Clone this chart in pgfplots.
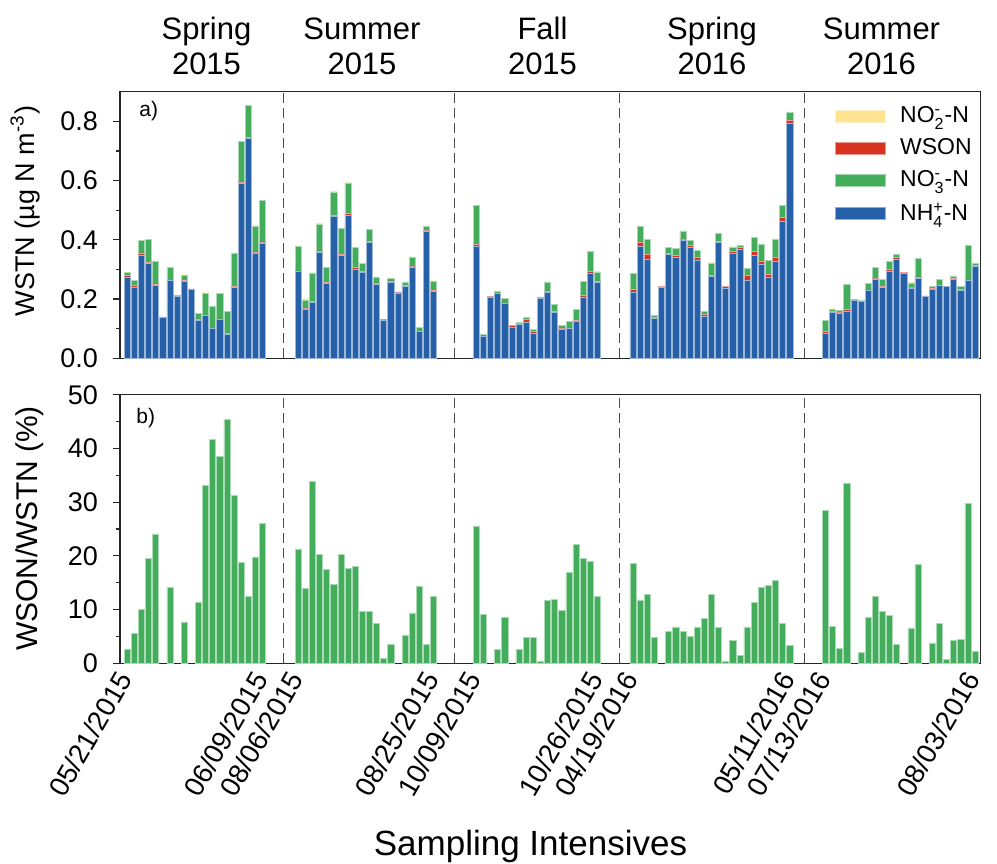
\documentclass[border=0pt]{standalone}
\usepackage{pgfplots}
\pgfplotsset{compat=1.18}
\usepackage{pgfplotstable}
\usepackage{amsmath}
\usepackage{fontspec}
\setmainfont{Liberation Sans}

\definecolor{cNH}{RGB}{37,96,168}
\definecolor{cNO3}{RGB}{67,173,92}
\definecolor{cWSON}{RGB}{216,50,33}
\definecolor{cNO2}{RGB}{254,228,145}

\pgfplotstableread{
x nh wson no3 no2
1 0.275 0.006 0.008 0
2 0.239 0.008 0.016 0.002
3 0.349 0.007 0.041 0.002
4 0.320 0.003 0.078 0
5 0.245 0.006 0.078 0
6 0.140 0 0 0
7 0.262 0.002 0.042 0
8 0.208 0.004 0 0
9 0.260 0.002 0.019 0.004
10 0.232 0.002 0 0
11 0.127 0.006 0.018 0
12 0.144 0.002 0.073 0.003
13 0.100 0.003 0.073 0
14 0.131 0.002 0.087 0
15 0.080 0.005 0.074 0
16 0.240 0.002 0.114 0
17 0.591 0.005 0.137 0
18 0.743 0.003 0.109 0
19 0.356 0.003 0.088 0
20 0.390 0.003 0.140 0
25 0.295 0 0.083 0.005
26 0.167 0.003 0.026 0.006
27 0.188 0.003 0.097 0
28 0.358 0.005 0.091 0.003
29 0.253 0.003 0.052 0
30 0.479 0.003 0.080 0.003
31 0.347 0.003 0.088 0
32 0.483 0.005 0.104 0.004
33 0.300 0.007 0.068 0
34 0.291 0.002 0.027 0
35 0.391 0.003 0.041 0
36 0.249 0.006 0.020 0
37 0.130 0.002 0 0
38 0.256 0.005 0.009 0
39 0.221 0.003 0 0
40 0.244 0.002 0.012 0
41 0.309 0.003 0.030 0
42 0.090 0.002 0.012 0
43 0.430 0.003 0.014 0
44 0.226 0.003 0.031 0.002
50 0.377 0.007 0.131 0.002
51 0.073 0.003 0.005 0
52 0.207 0.003 0 0
53 0.218 0.002 0.007 0
54 0.185 0.002 0.016 0
55 0.104 0.007 0 0.002
56 0.116 0.003 0.002 0
57 0.123 0.008 0.006 0
58 0.086 0.005 0.006 0
59 0.202 0.003 0.002 0
60 0.222 0.006 0.030 0
61 0.155 0.003 0.023 0
62 0.099 0.003 0.010 0
63 0.100 0.003 0.021 0
64 0.124 0.005 0.035 0
65 0.207 0.005 0.047 0.002
66 0.288 0.006 0.066 0.002
67 0.256 0.003 0.033 0.002
72 0.222 0.011 0.053 0
73 0.377 0.016 0.054 0
74 0.336 0.015 0.051 0
75 0.135 0.005 0.006 0
76 0.240 0.002 0 0
77 0.351 0.003 0.021 0
78 0.340 0.007 0.024 0
79 0.400 0.003 0.027 0
80 0.375 0.007 0.017 0
81 0.331 0.009 0.024 0
82 0.141 0.007 0.011 0
83 0.277 0.003 0.041 0.002
84 0.392 0.002 0.027 0
85 0.238 0.005 0 0
86 0.355 0.005 0.016 0
87 0.369 0.006 0.005 0.002
88 0.264 0.018 0.021 0.002
89 0.348 0.014 0.047 0
90 0.318 0.011 0.055 0
91 0.274 0.009 0.047 0
92 0.328 0.012 0.061 0.002
93 0.464 0.012 0.039 0.002
94 0.795 0.008 0.027 0.002
99 0.084 0.006 0.038 0.002
100 0.154 0.005 0.007 0.002
101 0.153 0.003 0.005 0
102 0.160 0.005 0.084 0.002
103 0.196 0.003 0 0
104 0.191 0 0.004 0
105 0.229 0.002 0.021 0
106 0.268 0.003 0.035 0
107 0.240 0.003 0.023 0
108 0.293 0.007 0.027 0.002
109 0.336 0.005 0.011 0.002
110 0.287 0.002 0 0
111 0.238 0.002 0.015 0.003
112 0.269 0.006 0.063 0
113 0.208 0.003 0 0
114 0.233 0.002 0.009 0
115 0.247 0 0.020 0
116 0.244 0 0 0
117 0.266 0.003 0.007 0.003
118 0.229 0.003 0.010 0
119 0.265 0 0.115 0
120 0.310 0.003 0.007 0
}\topdata

\pgfplotstableread{
x r
1 2.7
2 5.6
3 10.0
4 19.5
5 24.1
7 14.2
9 7.7
11 11.3
12 33.1
13 41.7
14 38.5
15 45.4
16 31.3
17 18.8
18 12.5
19 19.8
20 26.1
25 21.3
26 14.0
27 33.9
28 20.3
29 17.5
30 14.7
31 20.3
32 17.7
33 18.0
34 9.7
35 9.7
36 7.5
37 1.0
38 3.5
40 5.3
41 9.4
42 14.3
43 3.5
44 12.5
50 25.6
51 9.1
53 2.6
54 8.6
56 2.6
57 4.8
58 4.8
59 0.4
60 11.7
61 11.9
62 9.8
63 16.9
64 22.1
65 19.5
66 19.0
67 12.5
72 18.6
73 11.8
74 12.9
75 4.8
77 5.9
78 6.8
79 5.9
80 5.0
81 6.8
82 8.3
83 12.8
84 6.7
85 0.4
86 4.3
87 1.5
88 6.8
89 11.4
90 14.2
91 14.5
92 15.4
93 7.5
94 3.3
99 28.5
100 6.9
101 2.8
102 33.6
104 2.0
105 8.5
106 12.4
107 9.6
108 8.9
109 3.5
111 6.6
112 18.4
114 3.8
115 7.5
116 0.7
117 4.2
118 4.5
119 29.8
120 2.2
}\botdata

\pgfplotsset{
  common/.style={
    scale only axis,
    width=430.35pt,
    xmin=0, xmax=120.8,
    enlarge x limits=false,
    axis line style={black!85, line width=0.6pt},
    tick style={black!85, line width=0.6pt},
    tick align=outside,
    major tick length=3.5pt,
    minor tick length=2pt,
    ytick pos=left,
    xtick pos=bottom,
    minor y tick num=1,
    yticklabel style={font=\fontsize{13.5}{15}\selectfont, xshift=-4pt},
    /pgf/number format/assume math mode=true,
    extra x ticks={22.9,47,70.1,96.1},
    extra x tick labels={},
    extra x tick style={grid=major, major tick length=0pt,
      major grid style={black!70, line width=0.6pt, dash pattern=on 5pt off 2.5pt}},
  },
  barsty/.style={draw=white!55!#1, line width=0.25pt, fill=#1},
  legrect/.style={legend image code/.code={\filldraw[#1] (0pt,-3pt) rectangle (25pt,3pt);}},
}

\begin{document}
\begin{tikzpicture}
\path[use as bounding box] (0,0) rectangle (498.5pt,-431.5pt);

% season titles
\foreach \xx/\aa/\bb in {103.25/Spring/2015, 181/Summer/2015, 271.25/Fall/2015, 356/Spring/2016, 440.75/Summer/2016}{
  \node[anchor=base, inner sep=0pt, font=\fontsize{15.5}{17}\selectfont] at (\xx pt,-19.5pt) {\aa};
  \node[anchor=base, inner sep=0pt, font=\fontsize{15.5}{17}\selectfont] at (\xx pt,-37pt) {\bb};
}

\begin{axis}[common,
  at={(60pt,-45.85pt)}, anchor=north west,
  height=133.3pt,
  ymin=0, ymax=0.9,
  ytick={0,0.2,0.4,0.6,0.8},
  yticklabel style={/pgf/number format/fixed, /pgf/number format/fixed zerofill, /pgf/number format/precision=1},
  xtick=\empty,
  ybar stacked, bar width=0.85,
  legend style={at={(0.8307,0.96)}, anchor=north west, draw=none, fill=none,
    inner sep=0pt, font=\fontsize{11.5}{13}\selectfont, row sep=2.5pt,
    /tikz/every odd column/.append style={column sep=5pt}},
  legend cell align=left,
]
\addplot[barsty=cNH, forget plot] table[x=x,y=nh]{\topdata};
\addplot[barsty=cWSON, forget plot] table[x=x,y=wson]{\topdata};
\addplot[barsty=cNO3, forget plot] table[x=x,y=no3]{\topdata};
\addplot[barsty=cNO2, forget plot] table[x=x,y=no2]{\topdata};
\addlegendimage{legrect, fill=cNO2, draw=white!50!cNO2}
\addlegendentry{NO$_{\text{2}}^{\text{-}}$-N}
\addlegendimage{legrect, fill=cWSON, draw=white!50!cWSON}
\addlegendentry{WSON}
\addlegendimage{legrect, fill=cNO3, draw=white!50!cNO3}
\addlegendentry{NO$_{\text{3}}^{\text{-}}$-N}
\addlegendimage{legrect, fill=cNH, draw=white!50!cNH}
\addlegendentry{NH$_{\text{4}}^{\text{+}}$-N}
\end{axis}

\begin{axis}[common,
  at={(60pt,-197.35pt)}, anchor=north west,
  height=134.3pt,
  ymin=0, ymax=50,
  ytick={0,10,20,30,40,50},
  xtick={1,20,25,44,50,67,72,94,99,120},
  xticklabels={05/21/2015,06/09/2015,08/06/2015,08/25/2015,10/09/2015,10/26/2015,04/19/2016,05/11/2016,07/13/2016,08/03/2016},
  xticklabel style={rotate=60, anchor=east, font=\fontsize{13.8}{15}\selectfont, inner sep=2pt},
  xtick style={draw=none},
  ybar, bar width=0.85, bar shift=0pt,
]
\addplot[barsty=cNO3] table[x=x,y=r]{\botdata};
\end{axis}

% panel letters
\node[anchor=base west, inner sep=0pt, font=\fontsize{10.5}{12}\selectfont] at (69.5pt,-58pt) {a)};
\node[anchor=base west, inner sep=0pt, font=\fontsize{10.5}{12}\selectfont] at (68pt,-211.5pt) {b)};

% axis titles
\node[rotate=90, anchor=base, inner sep=0pt, font=\fontsize{13.5}{15}\selectfont] at (17pt,-105.5pt) {WSTN (µg N m\textsuperscript{-3})};
\node[rotate=90, anchor=base, inner sep=0pt, font=\fontsize{15}{17}\selectfont] at (19pt,-264.25pt) {WSON/WSTN (\%)};
\node[anchor=base, inner sep=0pt, font=\fontsize{17.5}{20}\selectfont] at (265.25pt,-427.5pt) {Sampling Intensives};
\end{tikzpicture}
\end{document}
